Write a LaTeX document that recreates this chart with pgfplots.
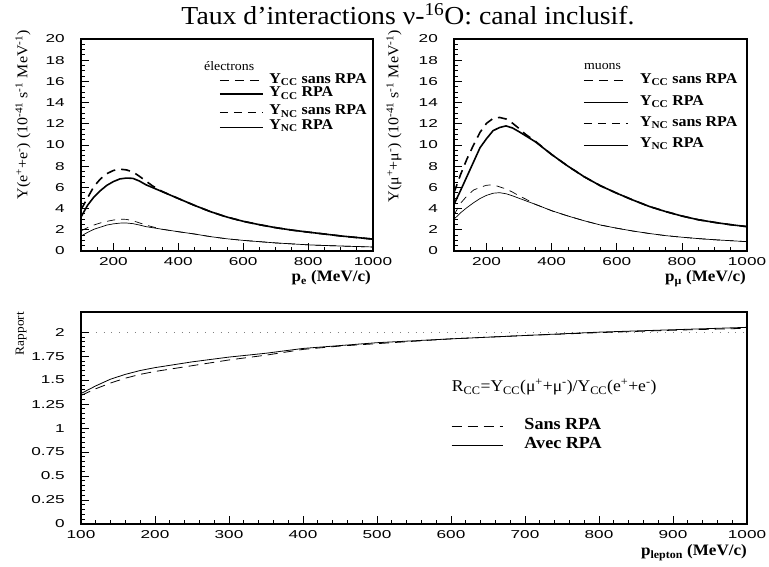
\documentclass[border=0pt]{standalone}
\usepackage{pgfplots}
\pgfplotsset{compat=1.18}
\usepackage{fontspec}
\setmainfont{Liberation Serif}[FakeStretch=1.07]
\newfontfamily\tickfont{Liberation Sans}[FakeStretch=1.5]
\newcommand\fs[1]{\fontsize{#1}{#1}\selectfont}
\newcommand\sub[1]{\textsubscript{#1}}
\newcommand\sups[1]{\textsuperscript{#1}}

\pgfplotsset{
  myaxis/.style={
    scale only axis,
    anchor=south west,
    axis line style={line width=1.2pt},
    tick align=inside,
    xtick pos=bottom, ytick pos=left,
    major tick length=8bp, minor tick length=4bp,
    every tick/.style={black, line width=0.8pt},
    tick label style={font=\fs{11.5}\tickfont},
    /pgf/number format/assume math mode=true,
    xticklabel style={anchor=north, inner sep=0pt, yshift=-6bp},
    yticklabel style={anchor=east, inner sep=0pt, xshift=-16bp},
    clip mode=individual,
  },
  topaxis/.style={
    myaxis, width=292bp, height=212bp,
    xmin=100, xmax=1000, ymin=0, ymax=20,
    xtick={200,400,600,800,1000},
    xticklabels={200,400,600,800,1000},
    minor xtick={100,150,...,1000},
    ytick={0,2,...,20},
    yticklabels={0,2,4,6,8,10,12,14,16,18,20},
    minor y tick num=3,
  },
  ccsans/.style={black, line width=1.6pt, dash pattern=on 9bp off 6bp},
  ccrpa/.style={black, line width=1.6pt},
  ncsans/.style={black, line width=0.7pt, dash pattern=on 8bp off 6bp},
  ncrpa/.style={black, line width=0.7pt},
}

\begin{document}
\begin{tikzpicture}[x=1bp,y=1bp]
\useasboundingbox (0,0) rectangle (769,567);

% ---------------- electrons ----------------
\begin{axis}[topaxis, at={(81bp,316bp)}]
\addplot[ccsans] coordinates {(100,3.9) (120,5.0) (140,6.1) (160,6.8) (180,7.3) (200,7.6) (220,7.72) (240,7.65) (260,7.45) (280,7.05) (300,6.6) (320,6.15) (340,5.8) (350,5.62) (400,4.95) (450,4.3) (500,3.7) (550,3.2) (600,2.8) (650,2.48) (700,2.2) (750,1.97) (800,1.78) (850,1.6) (900,1.42) (950,1.27) (1000,1.12)};
\addplot[ccrpa] coordinates {(100,3.2) (120,4.3) (140,5.1) (160,5.7) (180,6.2) (200,6.55) (220,6.8) (240,6.88) (260,6.85) (280,6.6) (300,6.25) (350,5.6) (400,4.95) (450,4.3) (500,3.7) (550,3.2) (600,2.8) (650,2.48) (700,2.2) (750,1.97) (800,1.78) (850,1.6) (900,1.42) (950,1.27) (1000,1.12)};
\addplot[ncsans] coordinates {(100,1.9) (120,2.2) (140,2.45) (160,2.65) (180,2.8) (200,2.92) (220,3.0) (240,2.98) (260,2.85) (280,2.65) (300,2.45) (320,2.28) (350,2.05) (400,1.82) (450,1.6) (500,1.35) (550,1.15) (600,1.0) (650,0.88) (700,0.76) (750,0.67) (800,0.58) (850,0.52) (900,0.47) (950,0.42) (1000,0.38)};
\addplot[ncrpa] coordinates {(100,1.4) (120,1.75) (140,2.05) (160,2.25) (180,2.45) (200,2.56) (220,2.63) (240,2.64) (260,2.58) (280,2.45) (300,2.3) (350,2.05) (400,1.82) (450,1.6) (500,1.35) (550,1.15) (600,1.0) (650,0.88) (700,0.76) (750,0.67) (800,0.58) (850,0.52) (900,0.47) (950,0.42) (1000,0.38)};
% legend
\node[anchor=west, inner sep=0pt, font=\fs{13}] at (axis cs:479,17.4) {électrons};
\addplot[ccsans] coordinates {(528,16.1) (660,16.1)};
\addplot[ccrpa]  coordinates {(528,14.8) (660,14.8)};
\addplot[ncsans] coordinates {(528,13.1) (660,13.1)};
\addplot[ncrpa]  coordinates {(528,11.7) (660,11.7)};
\node[anchor=west, inner sep=0pt, font=\fs{15}\bfseries] at (axis cs:680,16.2) {Y\sub{CC} sans RPA};
\node[anchor=west, inner sep=0pt, font=\fs{15}\bfseries] at (axis cs:680,14.9) {Y\sub{CC} RPA};
\node[anchor=west, inner sep=0pt, font=\fs{15}\bfseries] at (axis cs:680,13.2) {Y\sub{NC} sans RPA};
\node[anchor=west, inner sep=0pt, font=\fs{15}\bfseries] at (axis cs:680,11.8) {Y\sub{NC} RPA};
\end{axis}

% ---------------- muons ----------------
\begin{axis}[topaxis, width=293bp, at={(454bp,316bp)}]
\addplot[ccsans] coordinates {(100,5.5) (120,7.2) (140,8.7) (160,10.0) (180,11.2) (200,12.05) (220,12.5) (240,12.6) (260,12.45) (280,12.05) (300,11.55) (320,11.0) (350,10.35) (400,9.1) (450,8.0) (500,7.0) (550,6.15) (600,5.45) (650,4.8) (700,4.2) (750,3.72) (800,3.3) (850,2.95) (900,2.7) (950,2.48) (1000,2.3)};
\addplot[ccrpa] coordinates {(100,4.4) (120,5.7) (140,7.05) (160,8.4) (180,9.75) (200,10.6) (220,11.35) (240,11.65) (260,11.8) (280,11.6) (300,11.25) (350,10.3) (400,9.1) (450,8.0) (500,7.0) (550,6.15) (600,5.45) (650,4.8) (700,4.2) (750,3.72) (800,3.3) (850,2.95) (900,2.7) (950,2.48) (1000,2.3)};
\addplot[ncsans] coordinates {(100,3.4) (120,4.5) (140,5.2) (160,5.75) (180,6.0) (200,6.2) (220,6.25) (240,6.05) (260,5.85) (280,5.55) (300,5.2) (320,4.9) (350,4.4) (400,3.8) (450,3.3) (500,2.85) (550,2.45) (600,2.15) (650,1.88) (700,1.65) (750,1.45) (800,1.3) (850,1.17) (900,1.06) (950,0.97) (1000,0.88)};
\addplot[ncrpa] coordinates {(100,3.0) (120,3.6) (140,4.1) (160,4.55) (180,4.95) (200,5.25) (220,5.45) (240,5.5) (260,5.4) (280,5.2) (300,4.97) (350,4.4) (400,3.8) (450,3.3) (500,2.85) (550,2.45) (600,2.15) (650,1.88) (700,1.65) (750,1.45) (800,1.3) (850,1.17) (900,1.06) (950,0.97) (1000,0.88)};
% legend
\node[anchor=west, inner sep=0pt, font=\fs{13}] at (axis cs:499,17.4) {muons};
\addplot[ccsans] coordinates {(499,16.1) (634,16.1)};
\addplot[ccrpa]  coordinates {(499,14.0) (634,14.0)};
\addplot[ncsans] coordinates {(499,12.0) (634,12.0)};
\addplot[ncrpa]  coordinates {(499,10.0) (634,10.0)};
\node[anchor=west, inner sep=0pt, font=\fs{15}\bfseries] at (axis cs:671,16.2) {Y\sub{CC} sans RPA};
\node[anchor=west, inner sep=0pt, font=\fs{15}\bfseries] at (axis cs:671,14.1) {Y\sub{CC} RPA};
\node[anchor=west, inner sep=0pt, font=\fs{15}\bfseries] at (axis cs:671,12.1) {Y\sub{NC} sans RPA};
\node[anchor=west, inner sep=0pt, font=\fs{15}\bfseries] at (axis cs:671,10.1) {Y\sub{NC} RPA};
\end{axis}

% ---------------- ratio ----------------
\begin{axis}[myaxis, width=666bp, height=212bp, at={(81bp,43bp)},
  xmin=100, xmax=1000, ymin=0, ymax=2.21,
  xtick={100,200,...,1000},
  xticklabels={100,200,300,400,500,600,700,800,900,1000},
  minor x tick num=4,
  ytick={0,0.25,0.5,0.75,1,1.25,1.5,1.75,2},
  yticklabels={0,0.25,0.5,0.75,1,1.25,1.5,1.75,2},
  minor y tick num=4]
\addplot[gray, line width=0.6pt, dash pattern=on 0.8bp off 7bp] coordinates {(120,2) (1000,2)};
\addplot[black, line width=0.8pt, dash pattern=on 10bp off 6bp] coordinates {(100,1.34) (120,1.41) (140,1.47) (160,1.52) (180,1.56) (200,1.59) (250,1.65) (300,1.71) (350,1.76) (400,1.82) (450,1.855) (500,1.88) (550,1.905) (600,1.93) (700,1.965) (800,1.995) (900,2.02) (1000,2.04)};
\addplot[black, line width=0.8pt] coordinates {(100,1.36) (120,1.44) (140,1.51) (160,1.56) (180,1.60) (200,1.63) (250,1.69) (300,1.74) (350,1.78) (400,1.83) (450,1.86) (500,1.89) (550,1.91) (600,1.93) (700,1.965) (800,2.0) (900,2.025) (1000,2.05)};
\node[anchor=west, inner sep=0pt, font=\fs{16.5}] at (axis cs:601,1.43) {R\sub{CC}=Y\sub{CC}(μ\sups{+}+μ\sups{-})/Y\sub{CC}(e\sups{+}+e\sups{-})};
\addplot[black, line width=0.8pt, dash pattern=on 10bp off 6bp] coordinates {(601,1.02) (670,1.02)};
\addplot[black, line width=0.8pt] coordinates {(601,0.815) (670,0.815)};
\node[anchor=west, inner sep=0pt, font=\fs{17}\bfseries] at (axis cs:699,1.04) {Sans RPA};
\node[anchor=west, inner sep=0pt, font=\fs{17}\bfseries] at (axis cs:699,0.84) {Avec RPA};
\end{axis}

% ---------------- titles and labels ----------------
\node[anchor=base, inner sep=0pt, font=\fs{26}] at (408,542) {Taux d’interactions ν-\sups{16}O: canal inclusif.};
\node[rotate=90, anchor=east, inner sep=0pt, font=\fs{15}] at (23,537) {Y(e\sups{+}+e\sups{-}) (10\sups{-41} s\sups{-1} MeV\sups{-1})};
\node[rotate=90, anchor=east, inner sep=0pt, font=\fs{15}] at (394,537) {Y(μ\sups{+}+μ\sups{-}) (10\sups{-41} s\sups{-1} MeV\sups{-1})};
\node[rotate=90, anchor=east, inner sep=0pt, font=\fs{12.5}] at (21,255) {Rapport};
\node[anchor=base east, inner sep=0pt, font=\fs{16}\bfseries] at (371,285) {p\sub{e} (MeV/c)};
\node[anchor=base east, inner sep=0pt, font=\fs{16}\bfseries] at (746,285) {p\sub{μ} (MeV/c)};
\node[anchor=base east, inner sep=0pt, font=\fs{16}\bfseries] at (747,11) {p\sub{lepton} (MeV/c)};
\end{tikzpicture}
\end{document}
